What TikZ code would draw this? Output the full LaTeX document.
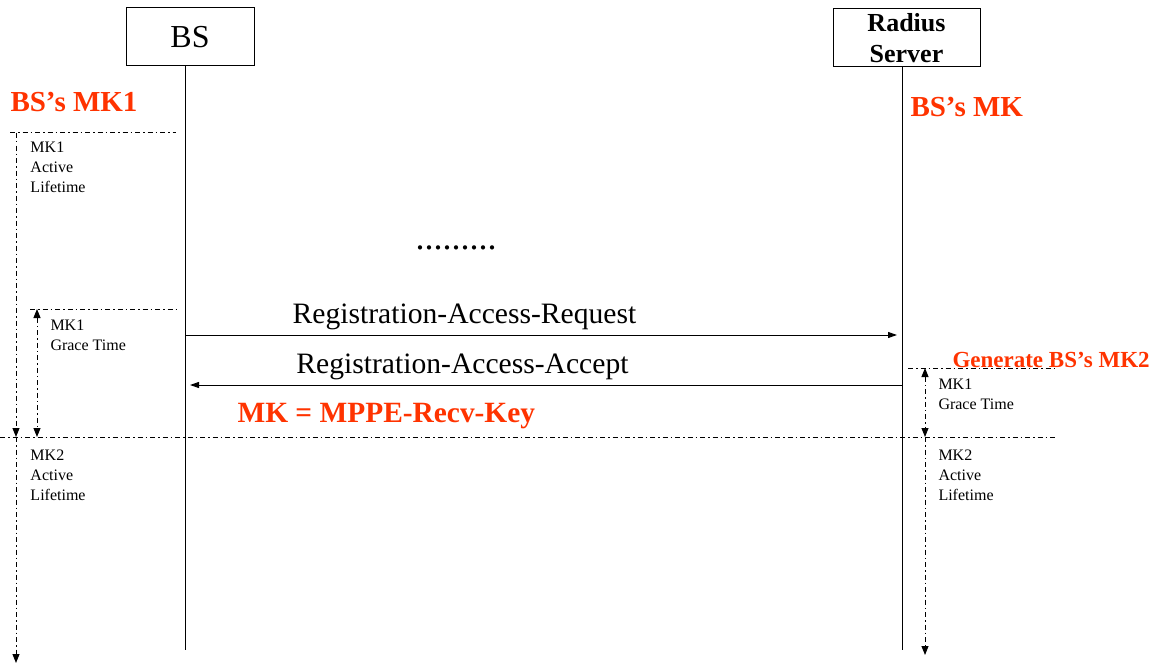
\documentclass[tikz,border=0pt]{standalone}
\usepackage{fontspec}
\setmainfont{Liberation Serif}
\usetikzlibrary{arrows.meta}
\definecolor{keyred}{RGB}{255,51,0}

\begin{document}
\begin{tikzpicture}[x=1pt, y=-1pt, line width=1pt,
	actor/.style={draw, minimum height=58pt, inner sep=0pt},
	note/.style={anchor=base west, inner sep=0pt, font=\fontsize{16}{20}\selectfont},
	keylabel/.style={anchor=base west, inner sep=0pt, text=keyred, font=\bfseries\fontsize{29}{33}\selectfont},
	msglabel/.style={anchor=base, inner sep=0pt, font=\fontsize{29.6}{34}\selectfont},
	msg/.style={-{Triangle[length=9pt,width=6pt]}},
	timeline/.style={dash pattern=on 5pt off 3pt on 1.5pt off 3pt},
	period/.style={timeline, -{Triangle[length=9pt,width=7pt]}},
	grace/.style={timeline, {Triangle[length=9pt,width=7pt]}-{Triangle[length=9pt,width=7pt]}}
]
\useasboundingbox (0,0) rectangle (1156,666);

% actors and lifelines
\node[actor, minimum width=128pt, font=\fontsize{32}{36}\selectfont] (bs) at (190,37) {BS};
\node[actor, minimum width=147pt, align=center, font=\bfseries\fontsize{26}{31}\selectfont] (rs) at (906.5,38) {Radius\\Server};
\coordinate (bsend) at (185,650);
\coordinate (rsend) at (902,650);
\draw (bs.south -| bsend) -- (bsend);
\draw (rs.south -| rsend) -- (rsend);

% keys
\node[keylabel] (bsmk1) at (10,112) {BS’s MK1};
\node[keylabel] (rsmk) at (910,117) {BS’s MK};
\node[keylabel, font=\bfseries\fontsize{23}{27}\selectfont] (genmk2) at (952,367) {Generate BS’s MK2};
\node[keylabel, font=\bfseries\fontsize{29.4}{33}\selectfont] (mkrecv) at (237,422) {MK = MPPE-Recv-Key};

\node[msglabel, font=\fontsize{36}{40}\selectfont] (dots) at (456,249) {.........};

% messages
\coordinate (bsreq) at (185,335);
\coordinate (rsreq) at (897,335);
\coordinate (rsacc) at (902,385);
\coordinate (bsacc) at (190,385);
\draw[msg] (bsreq) -- (rsreq);
\draw[msg] (rsacc) -- (bsacc);
\node[msglabel] (req) at (464.5,323) {Registration-Access-Request};
\node[msglabel] (acc) at (462.5,373) {Registration-Access-Accept};

% key lifetimes, BS side
\coordinate (a1) at (16,133);
\coordinate (a2) at (16,437);
\coordinate (a3) at (16,663);
\coordinate (g1) at (37,309);
\coordinate (g2) at (37,437);
\draw[timeline] (10,133) -- (176,133);
\draw[timeline] (30,309) -- (176,309);
\draw[timeline] (0,437) -- (1055,437);
\draw[period] (a1) -- (a2);
\draw[period] (a2) -- (a3);
\draw[grace] (g1) -- (g2);

\foreach [count=\i] \t in {MK1,Active,Lifetime}{
	\node[note] (la\i) at (30,132+20*\i) {\t};
}
\foreach [count=\i] \t in {MK1,Grace Time}{
	\node[note] (lg\i) at (50,310+20*\i) {\t};
}
\foreach [count=\i] \t in {MK2,Active,Lifetime}{
	\node[note] (lb\i) at (30,440+20*\i) {\t};
}

% key lifetimes, server side
\coordinate (h1) at (925,368);
\coordinate (h2) at (925,437);
\coordinate (h3) at (925,655);
\draw[timeline] (908,368) -- (1055,368);
\draw[grace] (h1) -- (h2);
\draw[period] (h2) -- (h3);

\foreach [count=\i] \t in {MK1,Grace Time}{
	\node[note] (rg\i) at (938,369+20*\i) {\t};
}
\foreach [count=\i] \t in {MK2,Active,Lifetime}{
	\node[note] (rb\i) at (938,440+20*\i) {\t};
}

\end{tikzpicture}
\end{document}
